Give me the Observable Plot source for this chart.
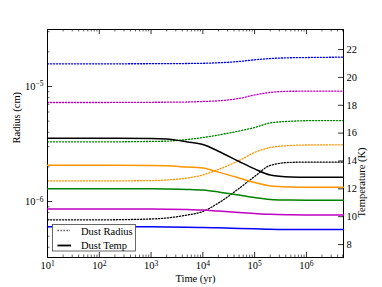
<!DOCTYPE html>
<html><head><meta charset="utf-8">
<script src="https://cdn.jsdelivr.net/npm/d3@7"></script>
<script src="https://cdn.jsdelivr.net/npm/@observablehq/plot@0.6"></script>
<style>
body{margin:0;background:#fff;}
#wrap{position:relative;width:382px;height:287px;font-family:"Liberation Serif","DejaVu Serif",serif;}
#wrap svg{position:absolute;left:0;top:0;}
#wrap svg text{font-family:"Liberation Serif","DejaVu Serif",serif;}
</style></head><body><div id="wrap"></div>
<script>
// ---- data ----
const times = [10, 100, 1000, 2000, 5000, 1e4, 2e4, 5e4, 1e5, 2e5, 5e5, 1e6, 5.2e6];
const colors = ["#000000", "#ff9500", "#008000", "#c000c0", "#0000ff"];
const radiusBlack   = [6.93e-7, 6.93e-7, 7.05e-7, 7.19e-7, 7.64e-7, 8.19e-7, 9.7e-7, 1.30e-6, 1.65e-6, 2.06e-6, 2.19e-6, 2.20e-6, 2.20e-6];
const radiusOrange  = [1.51e-6, 1.51e-6, 1.52e-6, 1.54e-6, 1.60e-6, 1.70e-6, 1.90e-6, 2.27e-6, 2.67e-6, 2.95e-6, 3.07e-6, 3.10e-6, 3.11e-6];
const radiusGreen   = [3.30e-6, 3.30e-6, 3.33e-6, 3.35e-6, 3.46e-6, 3.60e-6, 3.79e-6, 4.10e-6, 4.40e-6, 4.82e-6, 4.99e-6, 5.04e-6, 5.06e-6];
const radiusMagenta = [7.26e-6, 7.26e-6, 7.29e-6, 7.30e-6, 7.33e-6, 7.41e-6, 7.51e-6, 7.87e-6, 8.44e-6, 8.88e-6, 9.09e-6, 9.10e-6, 9.10e-6];
const radiusBlue    = [1.575e-5, 1.575e-5, 1.578e-5, 1.58e-5, 1.585e-5, 1.592e-5, 1.608e-5, 1.65e-5, 1.706e-5, 1.75e-5, 1.778e-5, 1.786e-5, 1.80e-5];
const tempBlack   = [15.63, 15.63, 15.61, 15.57, 15.37, 15.18, 14.70, 13.96, 13.43, 13.00, 12.85, 12.83, 12.83];
const tempOrange  = [13.69, 13.69, 13.67, 13.65, 13.56, 13.49, 13.20, 12.78, 12.45, 12.21, 12.13, 12.11, 12.11];
const tempGreen   = [12.00, 12.00, 12.00, 11.99, 11.96, 11.91, 11.78, 11.55, 11.37, 11.24, 11.19, 11.18, 11.18];
const tempMagenta = [10.56, 10.56, 10.55, 10.54, 10.51, 10.48, 10.40, 10.30, 10.23, 10.17, 10.14, 10.13, 10.13];
const tempBlue    = [9.27, 9.27, 9.27, 9.26, 9.24, 9.22, 9.20, 9.16, 9.13, 9.09, 9.08, 9.08, 9.08];
const xTicks = [10, 100, 1000, 1e4, 1e5, 1e6];
const rTicks = [1e-6, 1e-5];
const tTicks = [8, 10, 12, 14, 16, 18, 20, 22];
const legendLabels = ["Dust Radius", "Dust Temp"];
const xLabel = "Time (yr)", rLabel = "Radius (cm)", tLabel = "Temperature (K)";

// ---- layout ----
const W = 382, H = 287, mL = 47, mR = 39, mT = 29, mB = 30;
const fw = W - mL - mR, fh = H - mT - mB;
const xDomain = [10, 5.2e6], rDomain = [3.26e-7, 3.13e-5], tDomain = [7.07, 23.44];
const FONT = '"Liberation Serif", "DejaVu Serif", serif';

const radiusSeries = [radiusBlack, radiusOrange, radiusGreen, radiusMagenta, radiusBlue];
const tempSeries = [tempBlack, tempOrange, tempGreen, tempMagenta, tempBlue];
const rows = (arr) => times.map((t, i) => ({t, v: arr[i]}));

const minorOf = (lo, hi) => {
  const out = [];
  for (let e = Math.floor(Math.log10(lo)) - 1; e <= Math.ceil(Math.log10(hi)); e++)
    for (let k = 2; k <= 9; k++) { const v = k * Math.pow(10, e); if (v > lo && v < hi) out.push(v); }
  return out;
};
const xMinor = minorOf(xDomain[0], xDomain[1]);
const rMinor = minorOf(rDomain[0], rDomain[1]);
const xMajor = xTicks.filter(v => v > xDomain[0]);
const fmt = d => "10^" + Math.round(Math.log10(d));
const fontStyle = {fontFamily: FONT, fontSize: "10.5px", color: "black", overflow: "visible"};

const plot1 = Plot.plot({
  width: W, height: H, marginLeft: mL, marginRight: mR, marginTop: mT, marginBottom: mB,
  style: {...fontStyle, background: "white"},
  x: {type: "log", domain: xDomain},
  y: {type: "log", domain: rDomain},
  marks: [
    ...radiusSeries.map((s, i) => Plot.line(rows(s), {x: "t", y: "v", stroke: colors[i], strokeWidth: 1.3, strokeDasharray: "1.2,1.8", curve: "monotone-x"})),
    Plot.ruleX(xMajor, {insetTop: fh - 5, stroke: "black", strokeWidth: 0.8}),
    Plot.ruleX(xMajor, {insetBottom: fh - 5, stroke: "black", strokeWidth: 0.8}),
    Plot.ruleX(xMinor, {insetTop: fh - 2.5, stroke: "black", strokeWidth: 0.6}),
    Plot.ruleX(xMinor, {insetBottom: fh - 2.5, stroke: "black", strokeWidth: 0.6}),
    Plot.ruleY(rTicks, {insetRight: fw - 5, stroke: "black", strokeWidth: 0.8}),
    Plot.ruleY(rMinor, {insetRight: fw - 2.5, stroke: "black", strokeWidth: 0.6}),
    Plot.axisX({ticks: xTicks, tickSize: 0, tickPadding: 4, tickFormat: fmt, label: null, fontFamily: FONT}),
    Plot.axisY({anchor: "left", ticks: rTicks, tickSize: 0, tickPadding: 4, tickFormat: fmt, label: null, fontFamily: FONT}),
    Plot.text([xLabel], {text: d => d, frameAnchor: "bottom", dy: 21, lineAnchor: "middle", fontSize: 10.5, fontFamily: FONT}),
    Plot.text([rLabel], {text: d => d, frameAnchor: "left", dx: -31, rotate: -90, lineAnchor: "middle", fontSize: 10.5, fontFamily: FONT}),
    Plot.frame({stroke: "black", strokeWidth: 1})
  ]
});

const plot2 = Plot.plot({
  width: W, height: H, marginLeft: mL, marginRight: mR, marginTop: mT, marginBottom: mB,
  style: {...fontStyle, background: "transparent"},
  x: {type: "log", domain: xDomain, axis: null},
  y: {type: "linear", domain: tDomain},
  marks: [
    ...tempSeries.map((s, i) => Plot.line(rows(s), {x: "t", y: "v", stroke: colors[i], strokeWidth: 1.5, curve: "monotone-x"})),
    Plot.ruleY(tTicks, {insetLeft: fw - 5, stroke: "black", strokeWidth: 0.8}),
    Plot.axisY({anchor: "right", ticks: tTicks, tickSize: 0, tickPadding: 3, label: null, fontFamily: FONT}),
    Plot.text([tLabel], {text: d => d, frameAnchor: "right", dx: 18, dy: 4, rotate: -90, lineAnchor: "middle", fontSize: 10.5, fontFamily: FONT})
  ]
});
plot2.style.pointerEvents = "none";

function sup(svg) {
  d3.select(svg).selectAll("text").each(function () {
    const m = /^10\^(.+)$/.exec(this.textContent);
    if (m) {
      this.textContent = "";
      const s = d3.select(this);
      s.append("tspan").text("10");
      s.append("tspan").attr("dy", "-0.45em").attr("font-size", "7.5px").text(m[1].replace("-", "\u2212"));
    }
  });
}
sup(plot1);

const wrap = document.getElementById("wrap");
wrap.appendChild(plot1);
wrap.appendChild(plot2);

// legend
const leg = d3.create("svg").attr("width", W).attr("height", H).style("pointer-events", "none")
  .style("font-family", FONT).style("font-size", "10.5px");
leg.append("rect").attr("x", 52.5).attr("y", 224.5).attr("width", 83).attr("height", 26.5)
  .attr("fill", "white").attr("stroke", "#444").attr("stroke-width", 0.8);
leg.append("line").attr("x1", 57.5).attr("x2", 70).attr("y1", 230.5).attr("y2", 230.5)
  .attr("stroke", "#333").attr("stroke-width", 1.3).attr("stroke-dasharray", "1.2,1.8");
leg.append("line").attr("x1", 57.5).attr("x2", 71).attr("y1", 245.5).attr("y2", 245.5)
  .attr("stroke", "black").attr("stroke-width", 1.8);
leg.append("text").attr("x", 81).attr("y", 231).attr("dy", "0.35em").text(legendLabels[0]);
leg.append("text").attr("x", 81).attr("y", 245.5).attr("dy", "0.35em").text(legendLabels[1]);
wrap.appendChild(leg.node());
</script></body></html>
